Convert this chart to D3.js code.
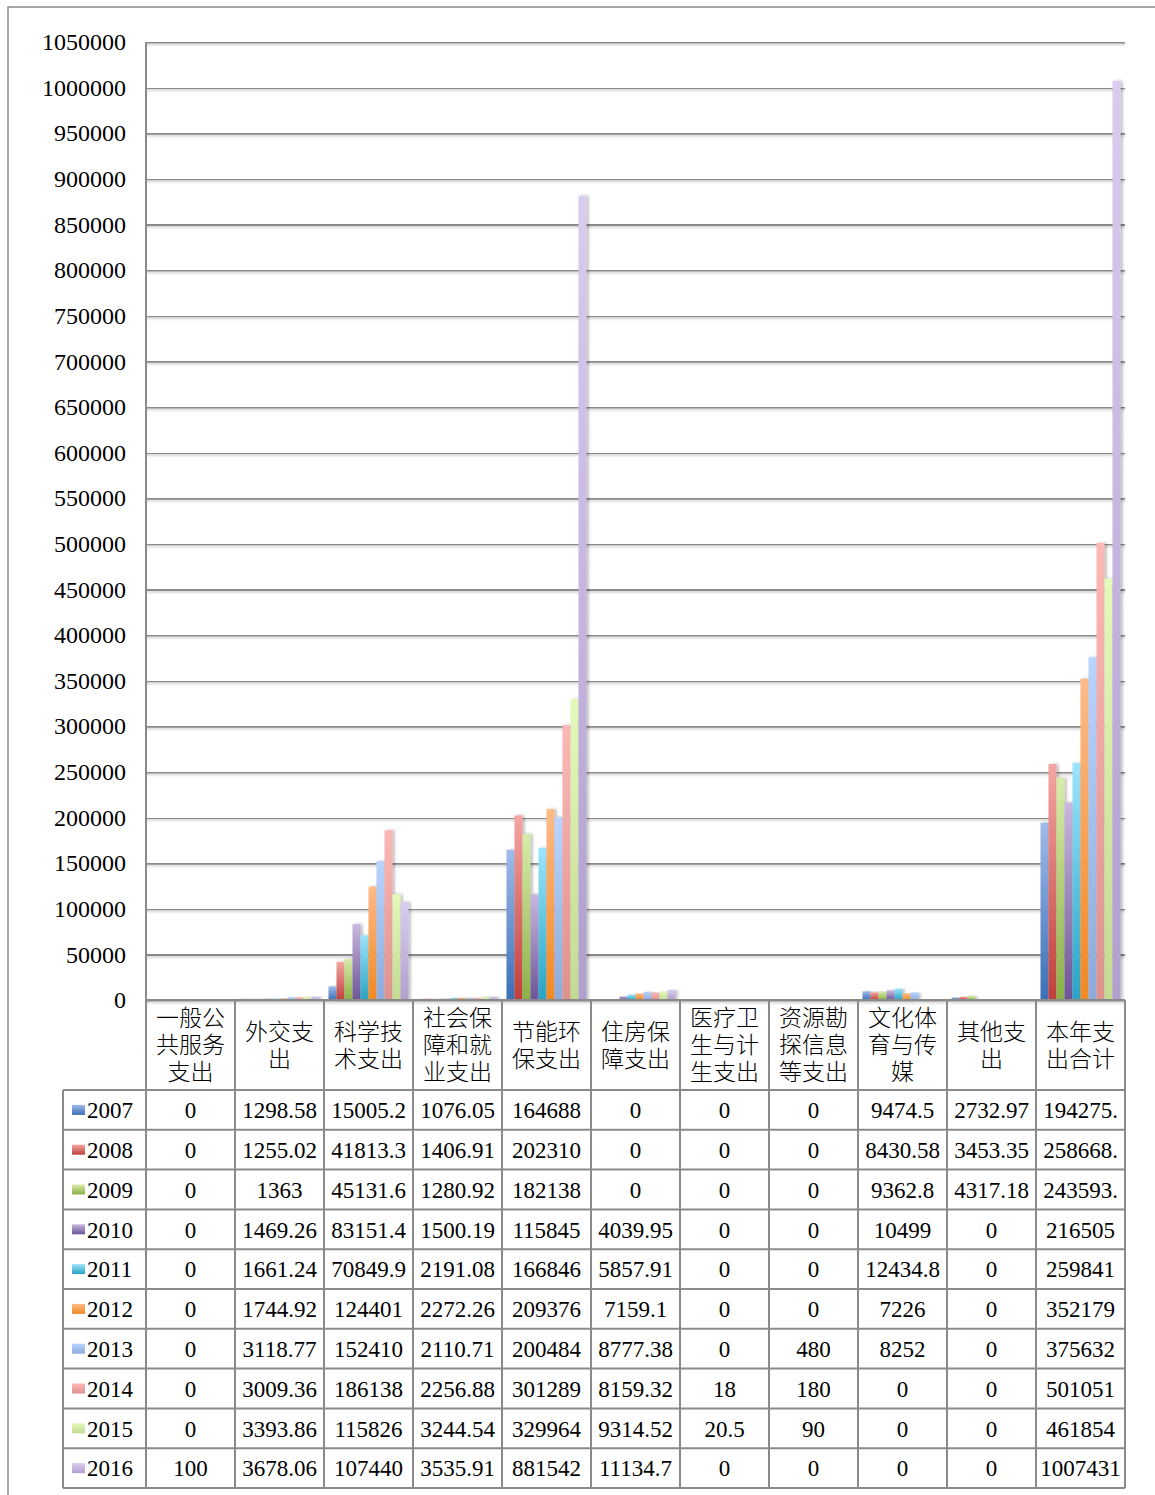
<!DOCTYPE html>
<html>
<head>
<meta charset="utf-8">
<script src="https://cdn.jsdelivr.net/npm/d3@7"></script>
<style>
  html, body { margin: 0; padding: 0; background: #fff; }
  svg { display: block; }
  text { font-family: "Liberation Serif", "Times New Roman", "Noto Sans CJK SC", serif; fill: #000; }
</style>
</head>
<body>
<svg id="chart" width="1155" height="1495"></svg>
<script>
// Expenditure categories (columns of the chart and the data table)
const categories = ["一般公共服务支出", "外交支出", "科学技术支出", "社会保障和就业支出", "节能环保支出",
  "住房保障支出", "医疗卫生与计生支出", "资源勘探信息等支出", "文化体育与传媒", "其他支出", "本年支出合计"];

const years = ["2007", "2008", "2009", "2010", "2011", "2012", "2013", "2014", "2015", "2016"];

// One series per year, in category order
const v2007 = [0, 1298.58, 15005.2, 1076.05, 164688, 0, 0, 0, 9474.5, 2732.97, 194275.3];
const v2008 = [0, 1255.02, 41813.3, 1406.91, 202310, 0, 0, 0, 8430.58, 3453.35, 258668.6];
const v2009 = [0, 1363, 45131.6, 1280.92, 182138, 0, 0, 0, 9362.8, 4317.18, 243593.5];
const v2010 = [0, 1469.26, 83151.4, 1500.19, 115845, 4039.95, 0, 0, 10499, 0, 216505];
const v2011 = [0, 1661.24, 70849.9, 2191.08, 166846, 5857.91, 0, 0, 12434.8, 0, 259841];
const v2012 = [0, 1744.92, 124401, 2272.26, 209376, 7159.1, 0, 0, 7226, 0, 352179];
const v2013 = [0, 3118.77, 152410, 2110.71, 200484, 8777.38, 0, 480, 8252, 0, 375632];
const v2014 = [0, 3009.36, 186138, 2256.88, 301289, 8159.32, 18, 180, 0, 0, 501051];
const v2015 = [0, 3393.86, 115826, 3244.54, 329964, 9314.52, 20.5, 90, 0, 0, 461854];
const v2016 = [100, 3678.06, 107440, 3535.91, 881542, 11134.7, 0, 0, 0, 0, 1007431];

const yMax = 1050000;
const yStep = 50000;

// Series table built from the named arrays
const seriesValues = [v2007, v2008, v2009, v2010, v2011, v2012, v2013, v2014, v2015, v2016];
const series = years.map((yr, i) => ({ year: yr, values: seriesValues[i] }));

// Gradient stops (top, bottom) for each year's bars
const gradTop = ["#9fbbea", "#f5a6a3", "#d8eca9", "#c8b8de", "#9de4fb", "#fdbb88", "#b9d4fe", "#fcb8b6", "#e4f9ba", "#d9ccef"];
const gradBottom = ["#3b6fb6", "#bf3f3b", "#8bb047", "#6d5498", "#28a3c5", "#f28822", "#8daadb", "#de928d", "#c2da91", "#b19fce"];

(function draw() {
  const svg = d3.select("#chart");
  const pL = 146, pR = 1125, pT = 42, pB = 1000;
  const grid = "#8a8a8a";

  const defs = svg.append("defs");
  years.forEach((yr, i) => {
    const g = defs.append("linearGradient").attr("id", "g" + yr)
      .attr("x1", 0).attr("y1", 0).attr("x2", 0).attr("y2", 1);
    g.append("stop").attr("offset", "0%").attr("stop-color", gradTop[i]);
    g.append("stop").attr("offset", "100%").attr("stop-color", gradBottom[i]);
  });
  const sh = defs.append("filter").attr("id", "barShadow")
    .attr("x", "-50%").attr("y", "-5%").attr("width", "200%").attr("height", "110%");
  sh.append("feDropShadow").attr("dx", 2).attr("dy", 0).attr("stdDeviation", 1.6)
    .attr("flood-color", "#000").attr("flood-opacity", 0.28);
  const lsh = defs.append("filter").attr("id", "lineShadow")
    .attr("filterUnits", "userSpaceOnUse")
    .attr("x", 0).attr("y", 0).attr("width", 1155).attr("height", 1495);
  lsh.append("feDropShadow").attr("dx", 0).attr("dy", 1.5).attr("stdDeviation", 0.8)
    .attr("flood-color", "#000").attr("flood-opacity", 0.22);

  // Chart frame
  svg.append("rect").attr("x", 8).attr("y", 7).attr("width", 1160).attr("height", 1500)
    .attr("fill", "none").attr("stroke", grid).attr("stroke-width", 1.5);

  const x0 = d3.scaleBand().domain(categories).range([pL, pR]).padding(0);
  const groupW = 80;
  const x1 = d3.scaleBand().domain(years).range([0, groupW]).padding(0);
  const y = d3.scaleLinear().domain([0, yMax]).range([pB, pT]);

  // Value axis with horizontal gridlines
  const ticks = d3.range(0, yMax + 1, yStep);
  const yAxis = d3.axisLeft(y).tickValues(ticks).tickFormat(d3.format("d"))
    .tickSize(-(pR - pL)).tickPadding(20);
  const ag = svg.append("g").attr("transform", `translate(${pL},0)`).call(yAxis);
  ag.select(".domain").remove();
  ag.selectAll(".tick line").attr("stroke", grid).attr("stroke-width", 2)
    .attr("filter", "url(#lineShadow)");
  ag.selectAll(".tick text").attr("font-size", 24).attr("dy", "0.32em")
    .style("font-family", "'Liberation Serif', 'Times New Roman', serif").attr("fill", "#000");

  // Bars
  const groups = svg.append("g").selectAll("g").data(series).join("g");
  groups.selectAll("rect")
    .data(s => s.values.map((v, ci) => ({ year: s.year, cat: categories[ci], v })).filter(d => d.v > 0))
    .join("rect")
    .attr("x", d => x0(d.cat) + (x0.bandwidth() - groupW) / 2 + x1(d.year))
    .attr("width", x1.bandwidth())
    .attr("y", d => y(d.v))
    .attr("height", d => pB - y(d.v))
    .attr("fill", d => `url(#g${d.year})`)
    .attr("filter", "url(#barShadow)");

  // Data table
  const headH = 90, rowH = 39.8;
  const tableTop = pB, rowsTop = pB + headH;
  const tableBottom = rowsTop + rowH * years.length;
  const legLeft = 63;
  const tg = svg.append("g");
  const lineAttr = sel => sel.attr("stroke", grid).attr("stroke-width", 2);

  // horizontal rules
  tg.append("line").attr("x1", pL).attr("x2", pR).attr("y1", tableTop).attr("y2", tableTop).call(lineAttr);
  d3.range(years.length + 1).forEach(i => {
    const yy = rowsTop + i * rowH;
    tg.append("line").attr("x1", legLeft).attr("x2", pR).attr("y1", yy).attr("y2", yy).call(lineAttr);
  });
  // vertical rules
  tg.append("line").attr("x1", pL).attr("x2", pL).attr("y1", pT).attr("y2", tableBottom).call(lineAttr);
  categories.forEach(c => {
    const xx = x0(c) + x0.bandwidth();
    tg.append("line").attr("x1", xx).attr("x2", xx).attr("y1", tableTop).attr("y2", tableBottom).call(lineAttr);
  });
  tg.append("line").attr("x1", legLeft).attr("x2", legLeft).attr("y1", rowsTop).attr("y2", tableBottom).call(lineAttr);

  // header cells, wrapped three characters per line
  categories.forEach(c => {
    const chunks = c.match(/.{1,3}/g);
    const cx = x0(c) + x0.bandwidth() / 2;
    const lh = 27;
    const startY = tableTop + headH / 2 - (chunks.length - 1) * lh / 2;
    const t = tg.append("text").attr("text-anchor", "middle").attr("font-size", 23)
      .style("font-family", "'Noto Sans CJK SC', sans-serif").style("font-weight", 300)
      .attr("fill", "#222");
    chunks.forEach((s, k) => {
      t.append("tspan").attr("x", cx).attr("y", startY + k * lh).attr("dy", "0.36em").text(s);
    });
  });

  // cell text: Excel-style truncation to the column width
  const cellText = v => { const s = String(v); return s.length > 7 ? s.slice(0, 7) : s; };

  series.forEach((s, i) => {
    const rowMid = rowsTop + i * rowH + rowH / 2;
    // legend key
    tg.append("rect").attr("x", 72).attr("y", rowMid - 5).attr("width", 13).attr("height", 10)
      .attr("fill", `url(#g${s.year})`);
    tg.append("text").attr("x", 87).attr("y", rowMid).attr("dy", "0.36em")
      .attr("font-size", 23).text(s.year);
    s.values.forEach((v, ci) => {
      const c = categories[ci];
      tg.append("text").attr("x", x0(c) + x0.bandwidth() / 2).attr("y", rowMid).attr("dy", "0.36em")
        .attr("text-anchor", "middle").attr("font-size", 23).text(cellText(v));
    });
  });
})();
</script>
</body>
</html>
